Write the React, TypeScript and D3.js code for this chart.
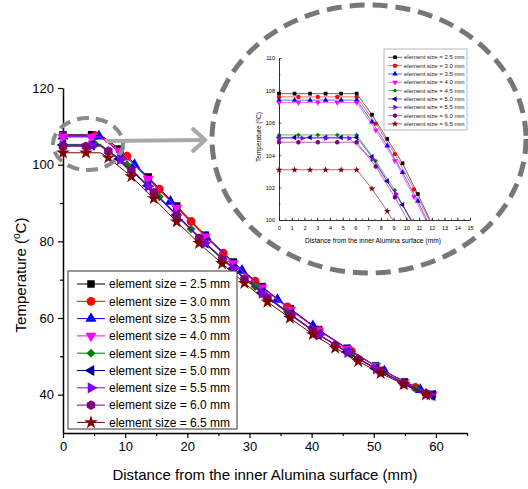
import React, { useEffect, useRef } from "react"
import * as d3 from "d3"

// legend labels, colours and marker kinds, one per series
const labels = [
  "element size = 2.5 mm", "element size = 3.0 mm", "element size = 3.5 mm",
  "element size = 4.0 mm", "element size = 4.5 mm", "element size = 5.0 mm",
  "element size = 5.5 mm", "element size = 6.0 mm", "element size = 6.5 mm",
]
const colors = ["#000000", "#ff0000", "#0000ff", "#ff00ff", "#008000", "#000080", "#8000ff", "#800080", "#800000"]
const shapes = ["square", "circle", "triUp", "triDown", "diamond", "triLeft", "triRight", "hexagon", "star"]

// main chart: distance (mm) and temperature (C) per series
const main25X = [0, 4.6, 6, 9.1, 13.7, 18.3, 22.9, 27.4, 32.0, 36.6, 41.1, 45.7, 50.3, 54.9, 59.4, 60]
const main25T = [107.8, 107.8, 107.8, 104.1, 96.8, 89.2, 81.6, 74.6, 68.2, 62.4, 57.0, 52.1, 47.5, 43.3, 40.1, 39.7]
const main30X = [0, 5.2, 6, 10.3, 15.5, 20.6, 25.8, 30.9, 36.1, 41.2, 46.4, 51.5, 56.7, 60]
const main30T = [107.6, 107.6, 107.6, 102.2, 93.6, 85.2, 76.9, 69.6, 62.9, 56.8, 51.3, 46.3, 41.9, 39.7]
const main35X = [0, 5.8, 6, 11.5, 17.3, 23.0, 28.8, 34.5, 40.2, 46.0, 51.7, 57.5, 60]
const main35T = [107.4, 107.4, 107.4, 100.0, 90.4, 81.1, 72.4, 64.8, 57.9, 51.6, 46.1, 41.3, 39.7]
const main40X = [0, 4.6, 6, 9.1, 13.7, 18.3, 22.9, 27.4, 32.0, 36.6, 41.1, 45.7, 50.3, 54.9, 59.4, 60]
const main40T = [107.2, 107.2, 107.2, 103.6, 96.3, 88.7, 81.2, 74.2, 67.9, 62.1, 56.7, 51.9, 47.4, 43.2, 40.0, 39.7]
const main45X = [0, 5.2, 6, 10.3, 15.5, 20.6, 25.8, 30.9, 36.1, 41.2, 46.4, 51.5, 56.7, 60]
const main45T = [105.3, 105.3, 105.3, 100.0, 91.6, 83.2, 75.3, 68.2, 61.6, 55.7, 50.5, 45.8, 41.6, 39.6]
const main50X = [0, 4.6, 6, 9.1, 13.7, 18.3, 22.9, 27.4, 32.0, 36.6, 41.1, 45.7, 50.3, 54.9, 59.4, 60]
const main50T = [105.1, 105.1, 105.1, 101.5, 94.5, 86.9, 79.6, 72.9, 66.6, 61.0, 55.7, 51.1, 46.8, 42.9, 39.8, 39.7]
const main55X = [0, 4.6, 6, 9.2, 13.7, 18.2, 22.8, 27.4, 32.0, 36.6, 41.2, 45.8, 50.4, 54.9, 59.0, 60]
const main55T = [105.0, 105.0, 105.0, 101.3, 94.4, 86.9, 79.6, 72.8, 66.5, 60.9, 55.6, 51.0, 46.7, 42.8, 40.0, 39.6]
const main60X = [0, 3.7, 6, 7.3, 11.0, 14.6, 18.3, 21.9, 25.6, 29.2, 32.9, 36.5, 40.2, 43.8, 47.5, 51.1, 54.8, 58.4, 60]
const main60T = [104.8, 104.8, 104.8, 103.5, 98.5, 92.7, 86.6, 80.8, 75.3, 70.2, 65.2, 60.9, 56.6, 52.9, 49.3, 46.0, 43.0, 40.3, 39.6]
const main65X = [0, 3.7, 6, 7.3, 11.0, 14.6, 18.3, 21.9, 25.6, 29.2, 32.9, 36.5, 40.2, 43.8, 47.5, 51.1, 54.8, 58.4, 60]
const main65T = [103.1, 103.1, 103.1, 101.8, 96.9, 91.2, 85.1, 79.5, 74.2, 69.1, 64.2, 60.0, 55.7, 52.2, 48.7, 45.6, 42.7, 40.0, 39.6]
// points that only carry the line (bend and end), no marker
const lineOnlyX = [6, 60]

// inset: first 15 mm
const in25X = [0, 1.22, 2.44, 3.66, 4.88, 6.1, 7.3, 8.5, 9.7, 10.9, 12.1]
const in25T = [107.8, 107.8, 107.8, 107.8, 107.8, 107.8, 106.5, 105.0, 103.5, 101.6, 99.6]
const in30X = [0, 1.525, 3.05, 4.575, 6.1, 7.6, 9.1, 10.6, 12.1]
const in30T = [107.6, 107.6, 107.6, 107.6, 107.6, 105.95, 104.07, 101.89, 99.5]
const in35X = [0, 1.22, 2.44, 3.66, 4.88, 6.1, 7.3, 8.5, 9.7, 10.9, 12.1]
const in35T = [107.4, 107.4, 107.4, 107.4, 107.4, 107.4, 106.06, 104.58, 102.94, 101.17, 99.2]
const in40X = [0, 1.525, 3.05, 4.575, 6.1, 7.6, 9.1, 10.6, 12.1]
const in40T = [107.25, 107.25, 107.25, 107.25, 107.25, 105.54, 103.65, 101.44, 99.1]
const in45X = [0, 1.525, 3.05, 4.575, 6.1, 7.6, 9.1, 10.6]
const in45T = [105.25, 105.25, 105.25, 105.25, 105.25, 103.65, 101.83, 99.6]
const in50X = [0, 1.22, 2.44, 3.66, 4.88, 6.1, 7.3, 8.5, 9.7, 10.9]
const in50T = [105.1, 105.1, 105.1, 105.1, 105.1, 105.1, 103.9, 102.4, 100.94, 99.3]
const in55X = [0, 1.83, 3.67, 5.5, 7.33, 9.17, 11.0]
const in55T = [105.05, 105.05, 105.05, 105.05, 103.75, 101.6, 99.2]
const in60X = [0, 1.525, 3.05, 4.575, 6.1, 7.6, 9.1, 10.6]
const in60T = [104.8, 104.8, 104.8, 104.8, 104.8, 103.3, 101.4, 99.3]
const in65X = [0, 1.22, 2.44, 3.66, 4.88, 6.1, 7.3, 8.5, 9.7]
const in65T = [103.1, 103.1, 103.1, 103.1, 103.1, 103.1, 101.93, 100.55, 99.0]

// ticks
const mainXTicks = [0, 10, 20, 30, 40, 50, 60]
const mainXMinor = [5, 15, 25, 35, 45, 55, 65]
const mainYTicks = [40, 60, 80, 100, 120]
const mainYMinor = [50, 70, 90, 110]
const inXTicks = [0, 1, 2, 3, 4, 5, 6, 7, 8, 9, 10, 11, 12, 13, 14, 15]
const inYTicks = [100, 102, 104, 106, 108, 110]
const inYMinor = [101, 103, 105, 107, 109]

const mainXs = [main25X, main30X, main35X, main40X, main45X, main50X, main55X, main60X, main65X]
const mainTs = [main25T, main30T, main35T, main40T, main45T, main50T, main55T, main60T, main65T]
const inXs = [in25X, in30X, in35X, in40X, in45X, in50X, in55X, in60X, in65X]
const inTs = [in25T, in30T, in35T, in40T, in45T, in50T, in55T, in60T, in65T]

const hexagon = {
  draw(context, size) {
    var r = Math.sqrt((2 * size) / (3 * Math.sqrt(3)))
    for (var i = 0; i < 6; i++) {
      var a = (Math.PI / 3) * i + Math.PI / 6
      if (i === 0) context.moveTo(r * Math.cos(a), r * Math.sin(a))
      else context.lineTo(r * Math.cos(a), r * Math.sin(a))
    }
    context.closePath()
  },
}

function marker(kind, big) {
  var k = big ? 1 : 0.25
  var type = d3.symbolSquare, size = 56, rot = 0
  if (kind === "circle") { type = d3.symbolCircle; size = 60 }
  if (kind === "triUp") { type = d3.symbolTriangle; size = 54 }
  if (kind === "triDown") { type = d3.symbolTriangle; size = 54; rot = 180 }
  if (kind === "diamond") { type = d3.symbolSquare; size = 40; rot = 45 }
  if (kind === "triLeft") { type = d3.symbolTriangle; size = 54; rot = -90 }
  if (kind === "triRight") { type = d3.symbolTriangle; size = 54; rot = 90 }
  if (kind === "hexagon") { type = hexagon; size = 62 }
  if (kind === "star") { type = d3.symbolStar; size = 58 }
  return { d: d3.symbol().type(type).size(size * k)(), rot: rot }
}

const font = "'Liberation Sans', Arial, sans-serif"

export default function App() {
  const ref = useRef(null)

  useEffect(() => {
    var svg = d3.select(ref.current)
    svg.selectAll("*").remove()

    var x = d3.scaleLinear().domain([0, 65]).range([63, 467])
    var y = d3.scaleLinear().domain([30, 120]).range([433, 88])
    var xi = d3.scaleLinear().domain([0, 15]).range([279, 470])
    var yi = d3.scaleLinear().domain([100, 110]).range([220, 58])

    svg.append("rect").attr("width", 528).attr("height", 489).attr("fill", "#fff")

    // ---- main axes
    var ax = svg.append("g").attr("font-family", font).attr("font-size", 13)
    var gx = ax.append("g").attr("transform", "translate(0,433)")
      .call(d3.axisBottom(x).tickValues(mainXTicks).tickSize(5).tickPadding(4).tickSizeOuter(0))
    gx.selectAll("text").attr("font-size", 13).attr("font-family", font)
    ax.append("g").attr("transform", "translate(0,433)")
      .call(d3.axisBottom(x).tickValues(mainXMinor).tickSize(3).tickFormat(() => "").tickSizeOuter(0))
      .select(".domain").remove()
    var gy = ax.append("g").attr("transform", "translate(63,0)")
      .call(d3.axisLeft(y).tickValues(mainYTicks).tickSize(5).tickPadding(4).tickSizeOuter(0))
    gy.selectAll("text").attr("font-size", 13).attr("font-family", font)
    ax.append("g").attr("transform", "translate(63,0)")
      .call(d3.axisLeft(y).tickValues(mainYMinor).tickSize(3).tickFormat(() => "").tickSizeOuter(0))
      .select(".domain").remove()
    ax.selectAll(".domain").attr("stroke-width", 1.5)
    ax.selectAll(".tick line").attr("stroke-width", 1.2)

    svg.append("text").attr("x", 265).attr("y", 480).attr("text-anchor", "middle")
      .attr("font-family", font).attr("font-size", 15).text("Distance from the inner Alumina surface (mm)")
    var yt = svg.append("text").attr("transform", "translate(26,275) rotate(-90)").attr("text-anchor", "middle")
      .attr("font-family", font).attr("font-size", 15)
    yt.append("tspan").text("Temperature (")
    yt.append("tspan").attr("font-size", 10).attr("dy", -6).text("o")
    yt.append("tspan").attr("dy", 6).text("C)")

    // ---- main series
    var line = d3.line().x(d => x(d[0])).y(d => y(d[1]))
    mainXs.forEach((xs, i) => {
      var pts = xs.map((v, j) => [v, mainTs[i][j]])
      svg.append("path").attr("d", line(pts)).attr("fill", "none").attr("stroke", colors[i]).attr("stroke-width", 1)
      var m = marker(shapes[i], true)
      svg.append("g").selectAll("path")
        .data(pts.filter(p => lineOnlyX.indexOf(p[0]) < 0))
        .enter().append("path")
        .attr("d", m.d)
        .attr("transform", p => "translate(" + x(p[0]) + "," + y(p[1]) + ") rotate(" + m.rot + ")")
        .attr("fill", colors[i])
    })

    // ---- main legend
    var lg = svg.append("g")
    lg.append("rect").attr("x", 68).attr("y", 271).attr("width", 169).attr("height", 158)
      .attr("fill", "#fff").attr("stroke", "#333").attr("stroke-width", 1)
    labels.forEach((t, i) => {
      var ly = 284 + i * 17.3
      lg.append("line").attr("x1", 77).attr("x2", 105).attr("y1", ly).attr("y2", ly).attr("stroke", colors[i])
      var m = marker(shapes[i], true)
      lg.append("path").attr("d", m.d).attr("transform", "translate(91," + ly + ") rotate(" + m.rot + ")").attr("fill", colors[i])
      lg.append("text").attr("x", 109).attr("y", ly).attr("dy", "0.36em").attr("font-family", font)
        .attr("font-size", 12).text(t)
    })

    // ---- zoom marks
    svg.append("ellipse").attr("cx", 88).attr("cy", 144).attr("rx", 35).attr("ry", 26)
      .attr("fill", "none").attr("stroke", "#8a8a8a").attr("stroke-width", 4).attr("stroke-dasharray", "12 7")
    var ar = svg.append("g").attr("stroke", "#a8a8a8").attr("stroke-width", 4).attr("fill", "none")
    ar.append("line").attr("x1", 105).attr("y1", 141).attr("x2", 204).attr("y2", 140)
    ar.append("polyline").attr("points", "192,128 205,140 192,152")
    svg.append("ellipse").attr("cx", 369).attr("cy", 139).attr("rx", 157).attr("ry", 134)
      .attr("fill", "none").attr("stroke", "#777").attr("stroke-width", 5).attr("stroke-dasharray", "15 8")

    // ---- inset
    var ins = svg.append("g").attr("font-family", font)
    svg.append("clipPath").attr("id", "inclip").append("rect")
      .attr("x", 276).attr("y", 55).attr("width", 197).attr("height", 165)
    var ix = ins.append("g").attr("transform", "translate(0,220)")
      .call(d3.axisTop(xi).tickValues(inXTicks).tickSize(2.5).tickFormat(() => "").tickSizeOuter(0))
    ix.selectAll(".tick").append("text").attr("y", 10).attr("text-anchor", "middle")
      .attr("fill", "#000").attr("font-size", 5.5).text(d => d)
    ins.append("g").attr("transform", "translate(0,220)")
      .call(d3.axisTop(xi).ticks(30).tickSize(1.5).tickFormat(() => "").tickSizeOuter(0))
      .select(".domain").remove()
    var iy = ins.append("g").attr("transform", "translate(279,0)")
      .call(d3.axisRight(yi).tickValues(inYTicks).tickSize(2.5).tickFormat(() => "").tickSizeOuter(0))
    iy.selectAll(".tick").append("text").attr("x", -4).attr("dy", "0.35em").attr("text-anchor", "end")
      .attr("fill", "#000").attr("font-size", 5.5).text(d => d)
    ins.append("g").attr("transform", "translate(279,0)")
      .call(d3.axisRight(yi).tickValues(inYMinor).tickSize(1.5).tickFormat(() => "").tickSizeOuter(0))
      .select(".domain").remove()
    ins.selectAll(".domain").attr("stroke-width", 0.8)
    ins.selectAll(".tick line").attr("stroke-width", 0.6)

    ins.append("text").attr("x", 373).attr("y", 243).attr("text-anchor", "middle")
      .attr("font-size", 6.7).text("Distance from the inner Alumina surface (mm)")
    var it = ins.append("text").attr("transform", "translate(261,137) rotate(-90)").attr("text-anchor", "middle")
      .attr("font-size", 6.5)
    it.append("tspan").text("Temperature (")
    it.append("tspan").attr("font-size", 4.5).attr("dy", -2.5).text("o")
    it.append("tspan").attr("dy", 2.5).text("C)")

    var iline = d3.line().x(d => xi(d[0])).y(d => yi(d[1]))
    var plot = ins.append("g").attr("clip-path", "url(#inclip)")
    inXs.forEach((xs, i) => {
      var pts = xs.map((v, j) => [v, inTs[i][j]])
      plot.append("path").attr("d", iline(pts)).attr("fill", "none").attr("stroke", colors[i]).attr("stroke-width", 0.6)
      var m = marker(shapes[i], false)
      plot.append("g").selectAll("path").data(pts).enter().append("path")
        .attr("d", m.d)
        .attr("transform", p => "translate(" + xi(p[0]) + "," + yi(p[1]) + ") rotate(" + m.rot + ")")
        .attr("fill", colors[i])
    })

    var il = ins.append("g")
    il.append("rect").attr("x", 384).attr("y", 49).attr("width", 83).attr("height", 81)
      .attr("fill", "#fff").attr("stroke", "#999").attr("stroke-width", 0.7)
    labels.forEach((t, i) => {
      var ly = 57.3 + i * 8.33
      il.append("line").attr("x1", 388).attr("x2", 402).attr("y1", ly).attr("y2", ly)
        .attr("stroke", colors[i]).attr("stroke-width", 0.6)
      var m = marker(shapes[i], false)
      il.append("path").attr("d", m.d).attr("transform", "translate(395," + ly + ") rotate(" + m.rot + ")").attr("fill", colors[i])
      il.append("text").attr("x", 404).attr("y", ly).attr("dy", "0.35em").attr("font-size", 6).attr("fill", "#222").text(t)
    })
  }, [])

  return (
    <svg ref={ref} width={528} height={489} style={{ position: "absolute", left: 0, top: 0, display: "block" }} />
  )
}
